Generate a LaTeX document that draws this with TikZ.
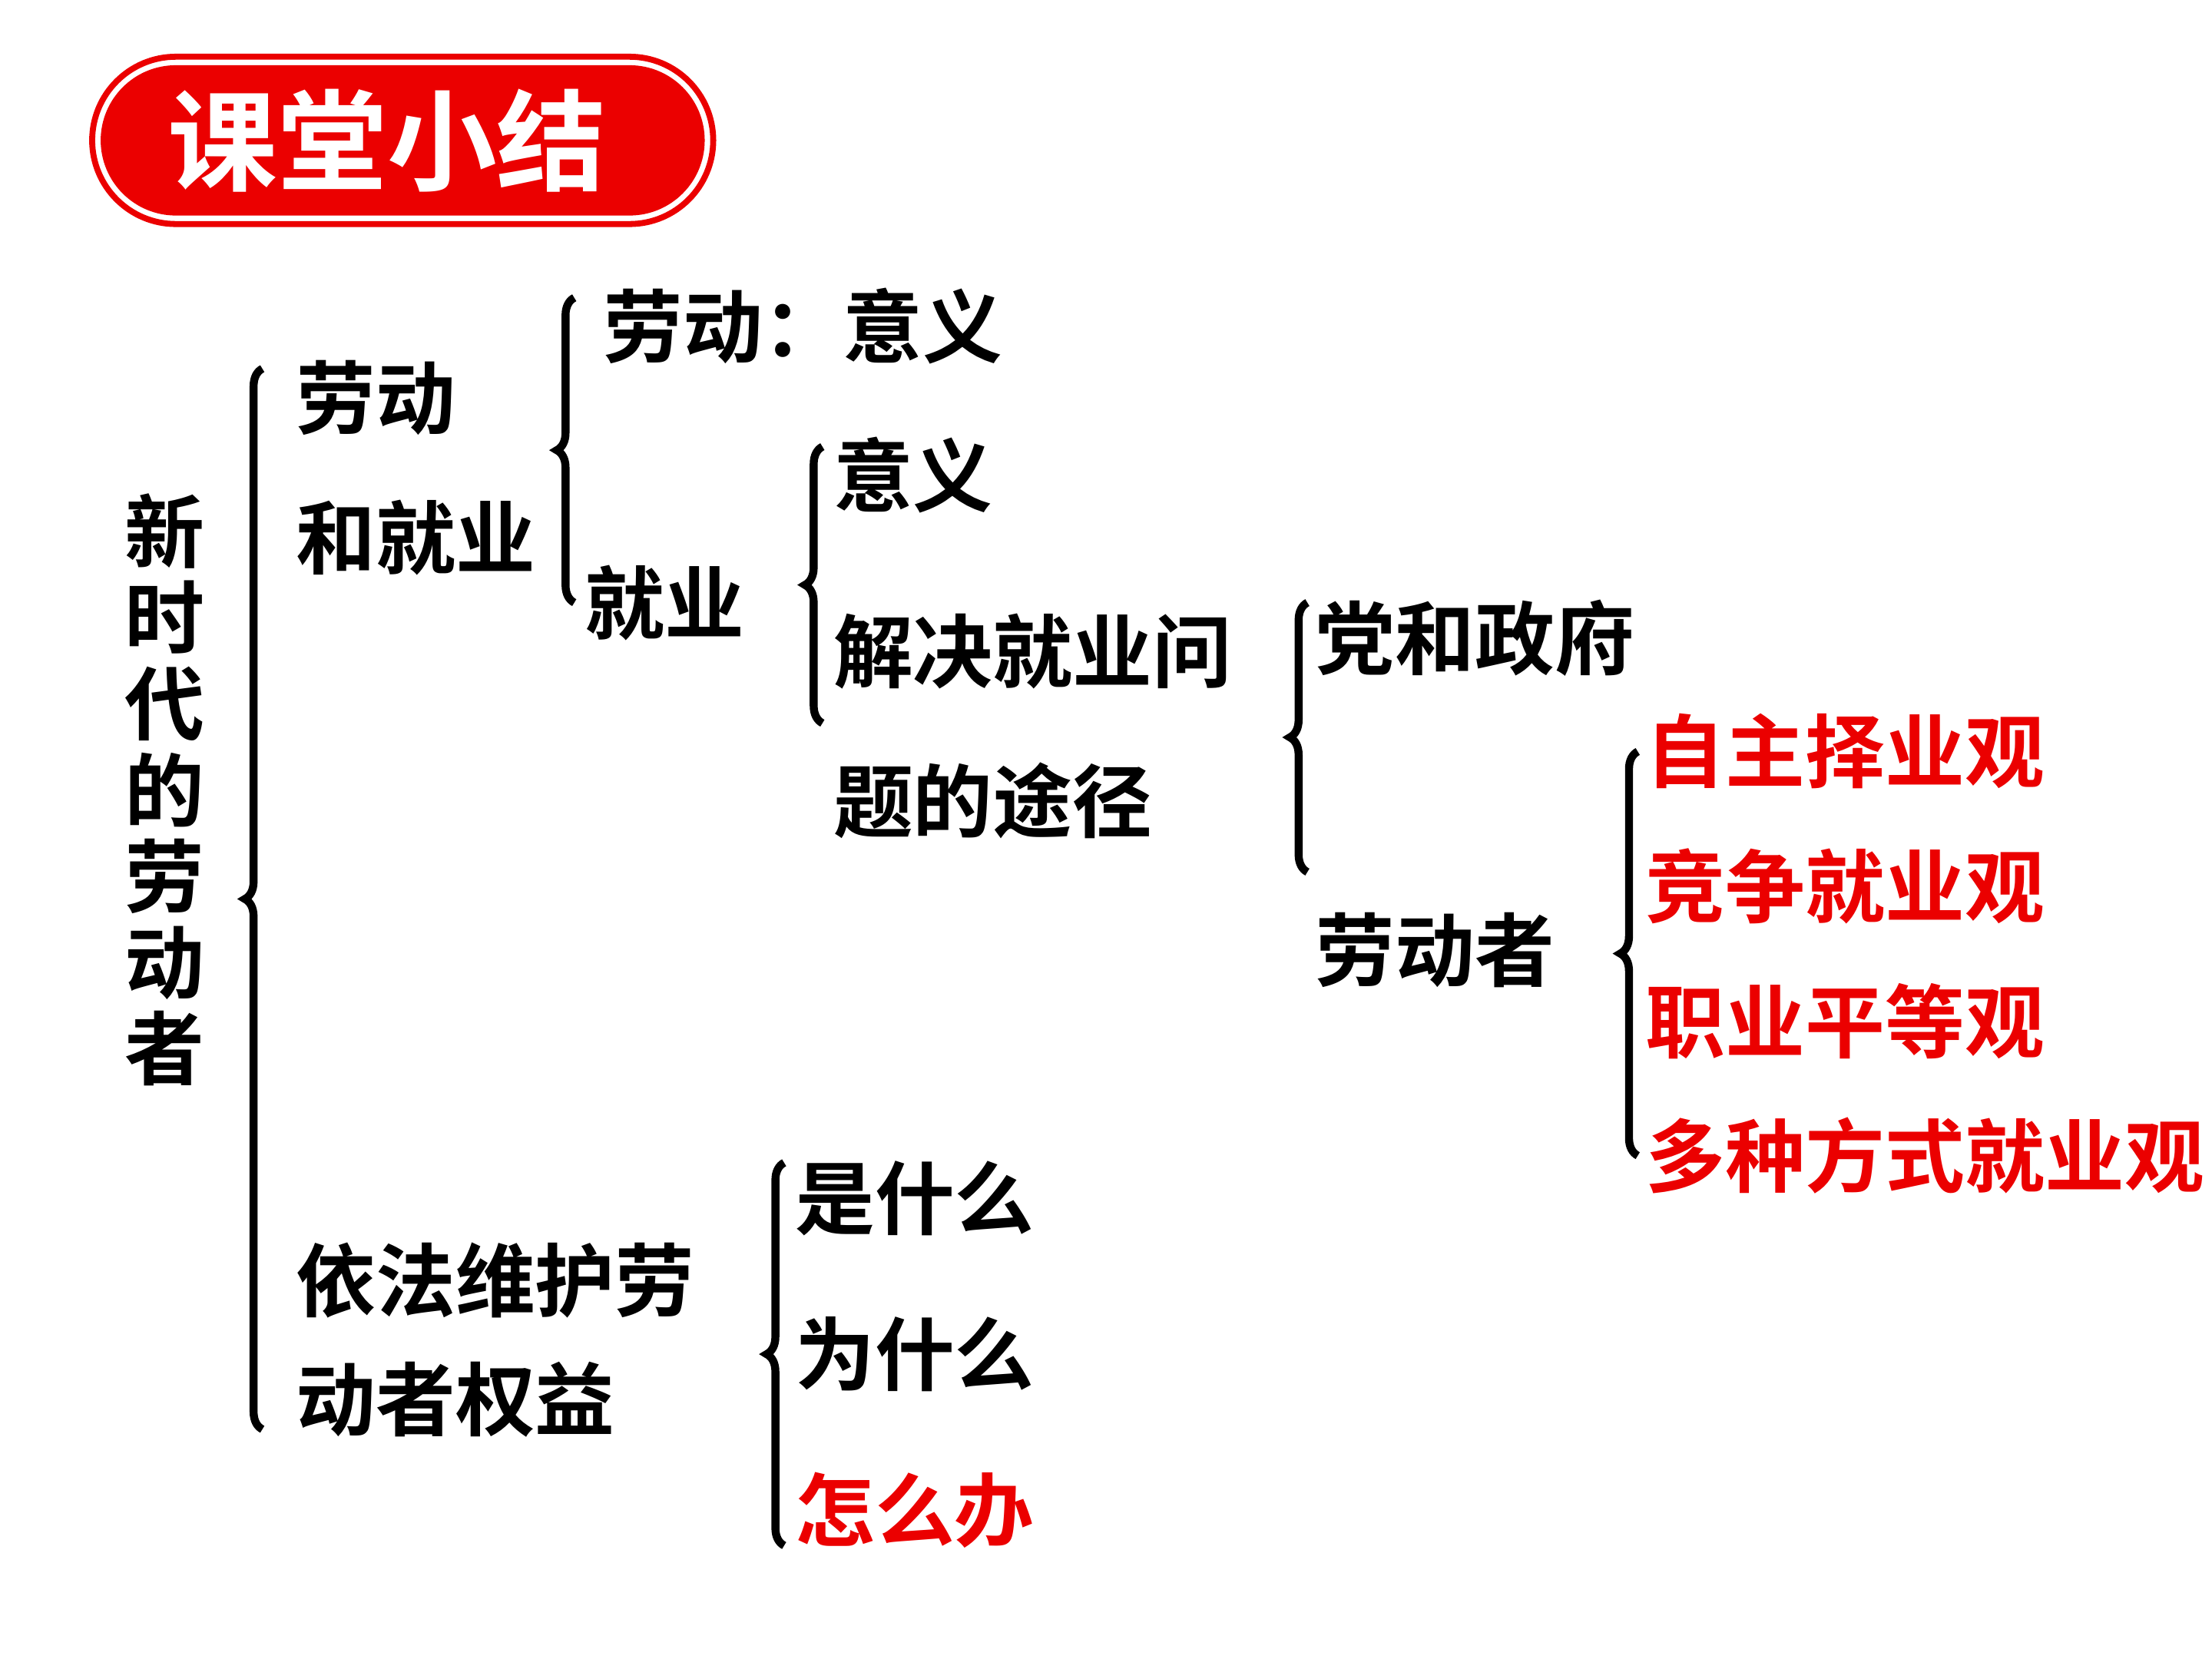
\documentclass[tikz,border=0pt]{standalone}
\usepackage{fontspec}
\setmainfont{Noto Sans CJK SC}[BoldFont={Noto Sans CJK SC Bold}]
\usetikzlibrary{decorations.pathreplacing}
\definecolor{myred}{RGB}{235,0,0}
\begin{document}
\begin{tikzpicture}[x=0.01cm,y=-0.01cm,
  t/.style={anchor=west,inner sep=0pt,font=\fontsize{16}{20}\selectfont\bfseries},
  r/.style={t,text=myred},
  br/.style={decorate,decoration={brace,amplitude=10pt*0.35},line width=1.6pt}]
\useasboundingbox (0,0) rectangle (1560,1170);
\draw[myred,line width=1.2pt,rounded corners=0.59cm] (65,40) rectangle (503,158);
\fill[myred,rounded corners=0.53cm] (71,46) rectangle (497,152);
\node[text=white,font=\fontsize{22}{26}\selectfont\bfseries] (tt) at (273,99) {课堂小结};
\node[font=\fontsize{16}{17.3}\selectfont\bfseries,align=center,inner sep=0pt] (root) at (116,557) {新\\时\\代\\的\\劳\\动\\者};
\draw[br] (185,1008) -- (185,260);
\node[t,align=left] (ldj) at (208,330) {劳动\\[8pt]和就业};
\draw[br] (405,425) -- (405,210);
\node[t] (ld) at (425,230) {劳动：意义};
\node[t] (jy) at (412,425) {就业};
\draw[br] (580,510) -- (580,315);
\node[t] (yy) at (587,335) {意义};
\node[t,align=left] (tj) at (587,512) {解决就业问\\[10pt]题的途径};
\draw[br] (922,615) -- (922,425);
\node[t] (dz) at (927,450) {党和政府};
\node[t] (ldz) at (927,670) {劳动者};
\draw[br] (1155,815) -- (1155,530);
\node[r] (a1) at (1160,530) {自主择业观};
\node[r] (a2) at (1160,625) {竞争就业观};
\node[r] (a3) at (1160,720) {职业平等观};
\node[r] (a4) at (1160,815) {多种方式就业观};
\node[t,align=left] (yf) at (208,945) {依法维护劳\\[4pt]动者权益};
\draw[br] (553,1090) -- (553,820);
\node[t] (s1) at (560,845) {是什么};
\node[t] (s2) at (560,955) {为什么};
\node[r] (s3) at (560,1065) {怎么办};
\end{tikzpicture}
\end{document}
